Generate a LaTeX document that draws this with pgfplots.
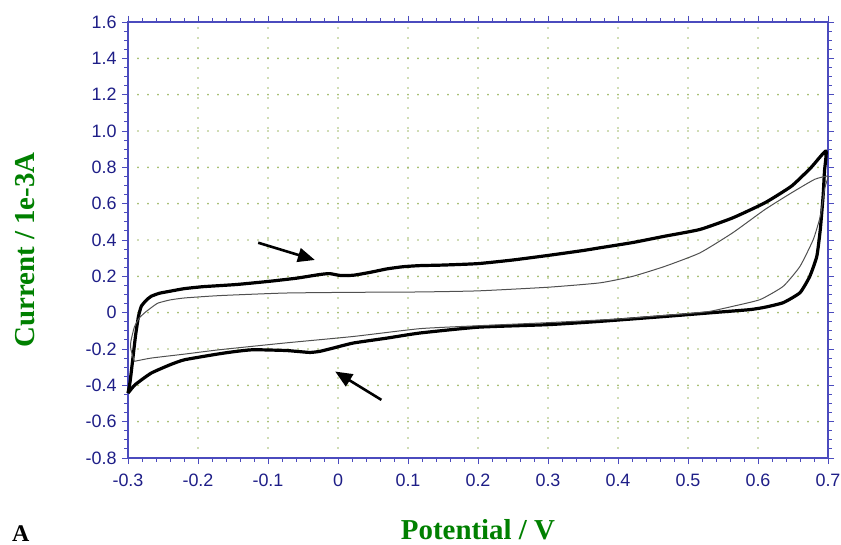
\documentclass[border=0pt]{standalone}
\usepackage{pgfplots}
\pgfplotsset{compat=1.18}
\usepackage{fontspec}
\setmainfont{Liberation Serif}
\setsansfont{Liberation Sans}
\usetikzlibrary{arrows.meta}

\definecolor{axisblue}{RGB}{75,75,190}
\definecolor{ticktext}{RGB}{30,30,135}
\definecolor{griddot}{RGB}{160,185,105}
\definecolor{labelgreen}{RGB}{0,128,0}
\definecolor{thingray}{RGB}{80,80,80}

\begin{document}
\begin{tikzpicture}
\useasboundingbox (-128bp,-87bp) rectangle (713bp,458bp);
\begin{axis}[
    at={(0,0)}, anchor=south west,
    scale only axis, width=700bp, height=436bp,
    xmin=-0.3, xmax=0.7, ymin=-0.8, ymax=1.6,
    xtick={-0.3,-0.2,-0.1,0,0.1,0.2,0.3,0.4,0.5,0.6,0.7},
    xticklabels={-0.3,-0.2,-0.1,0,0.1,0.2,0.3,0.4,0.5,0.6,0.7},
    ytick={-0.8,-0.6,-0.4,-0.2,0,0.2,0.4,0.6,0.8,1.0,1.2,1.4,1.6},
    yticklabels={-0.8,-0.6,-0.4,-0.2,0,0.2,0.4,0.6,0.8,1.0,1.2,1.4,1.6},
    minor x tick num=4, minor y tick num=3,
    tick align=outside, major tick length=6bp, minor tick length=3.5bp,
    tick style={axisblue, line width=0.9bp},
    axis line style={axisblue, line width=1.3bp},
    ticklabel style={font=\sffamily\fontsize{18}{20}\selectfont, text=ticktext},
    xticklabel style={yshift=-6bp},
    yticklabel style={xshift=-2bp},
    grid=major,
    major grid style={griddot, line width=1.9bp, line cap=round, dash pattern=on 0bp off 10bp},
    xlabel={Potential / V},
    ylabel={Current / 1e-3A},
    label style={font=\bfseries\fontsize{29}{32}\selectfont, text=labelgreen},
    xlabel style={at={(axis description cs:0.5,-0.188)}, anchor=base},
    ylabel style={at={(axis description cs:-0.1329,0.477)}, anchor=base},
    clip=false,
]

% thick CV loop
\addplot[black, line width=3.2bp, line join=round, smooth, tension=0.3] coordinates {
(-0.300,-0.443) (-0.297,-0.380) (-0.293,-0.250) (-0.289,-0.120)
(-0.285,-0.020) (-0.281,0.035) (-0.274,0.068) (-0.267,0.090)
(-0.255,0.107) (-0.240,0.118) (-0.220,0.132) (-0.193,0.143)
(-0.145,0.155) (-0.097,0.173) (-0.059,0.190) (-0.026,0.210)
(-0.012,0.215) (0.003,0.205) (0.022,0.206) (0.046,0.222)
(0.070,0.241) (0.093,0.253) (0.117,0.259) (0.150,0.262)
(0.200,0.270) (0.250,0.290) (0.300,0.315) (0.350,0.342)
(0.374,0.357) (0.421,0.386) (0.467,0.421) (0.517,0.458)
(0.564,0.522) (0.610,0.605) (0.648,0.697) (0.676,0.800)
(0.697,0.890)
(0.695,0.780) (0.693,0.642) (0.689,0.458) (0.684,0.310)
(0.674,0.200) (0.660,0.110) (0.636,0.055) (0.610,0.030)
(0.589,0.017) (0.541,0.002) (0.470,-0.020) (0.374,-0.048)
(0.300,-0.066) (0.200,-0.080) (0.117,-0.112) (0.070,-0.140)
(0.022,-0.167) (-0.007,-0.195) (-0.026,-0.213) (-0.040,-0.219)
(-0.059,-0.213) (-0.076,-0.208) (-0.121,-0.204) (-0.145,-0.213)
(-0.169,-0.226) (-0.219,-0.259) (-0.240,-0.287) (-0.267,-0.333)
(-0.290,-0.397) (-0.300,-0.443)
};

% thin CV loop
\addplot[thingray, line width=1bp, line join=round, smooth, tension=0.3] coordinates {
(-0.291,-0.268) (-0.296,-0.200) (-0.296,-0.160) (-0.291,-0.080)
(-0.284,-0.030) (-0.276,0.000) (-0.266,0.030) (-0.257,0.053)
(-0.240,0.070) (-0.219,0.081) (-0.169,0.094) (-0.076,0.108)
(0.022,0.112) (0.117,0.114) (0.200,0.120) (0.300,0.140)
(0.374,0.164) (0.421,0.200) (0.467,0.255) (0.517,0.329)
(0.564,0.440) (0.610,0.568) (0.648,0.660) (0.681,0.734)
(0.700,0.752)
(0.698,0.720) (0.695,0.679) (0.689,0.531) (0.679,0.403)
(0.660,0.255) (0.636,0.145) (0.603,0.072) (0.564,0.035)
(0.531,0.007) (0.500,-0.005) (0.450,-0.020) (0.400,-0.035)
(0.300,-0.055) (0.200,-0.072) (0.117,-0.088) (0.022,-0.131)
(-0.076,-0.167) (-0.169,-0.204) (-0.219,-0.228) (-0.267,-0.250)
(-0.291,-0.268)
};

\draw[-{Triangle[length=17bp,width=14bp]}, line width=2.6bp]
    (axis cs:-0.114,0.385) -- (axis cs:-0.033,0.290);
\draw[-{Triangle[length=17bp,width=14bp]}, line width=2.6bp]
    (axis cs:0.062,-0.480) -- (axis cs:-0.004,-0.324);

\end{axis}
\node[anchor=base west, font=\bfseries\fontsize{24}{26}\selectfont, inner sep=0pt] at (-116bp,-83bp) {A};
\end{tikzpicture}
\end{document}
